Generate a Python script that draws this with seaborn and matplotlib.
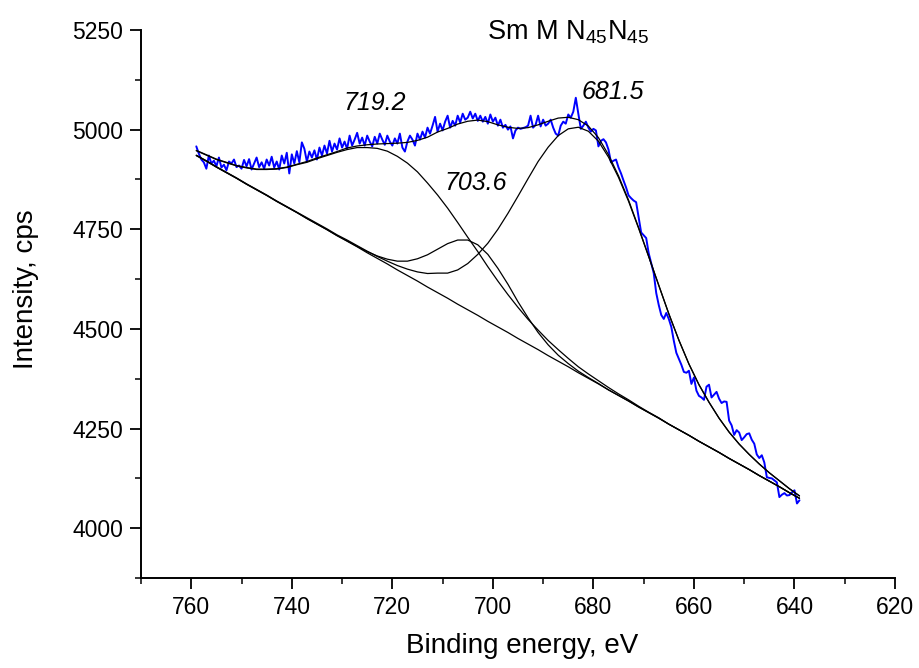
import numpy as np
import pandas as pd
import matplotlib
matplotlib.use("Agg")
import matplotlib.pyplot as plt
import seaborn as sns
from matplotlib.ticker import MultipleLocator

# ---------------- data ----------------
fit_energy = [759, 757, 755, 753, 751, 749, 747, 745, 743, 741, 739, 737, 735, 733, 731,
              729, 727, 725, 723, 721, 719, 717, 715, 713, 711, 709, 707, 705, 703, 701,
              699, 697, 695, 693, 691, 689, 687, 685, 683, 681, 679, 677, 675, 673, 671,
              669, 667, 665, 663, 661, 659, 657, 655, 653, 651, 649, 647, 645, 643, 641, 639]

background = [4935, 4921, 4906, 4892, 4878, 4863, 4849, 4835, 4820, 4806, 4792, 4777, 4763, 4749, 4734,
              4720, 4706, 4691, 4677, 4663, 4648, 4634, 4620, 4605, 4591, 4577, 4562, 4548, 4534, 4519,
              4505, 4491, 4476, 4462, 4448, 4433, 4419, 4405, 4390, 4376, 4362, 4347, 4333, 4319, 4304,
              4290, 4276, 4261, 4247, 4233, 4218, 4204, 4190, 4175, 4161, 4147, 4132, 4118, 4104, 4089, 4075]

peak_719 = [12, 15, 19, 25, 31, 41, 51, 65, 81, 99, 120, 141, 164, 186, 209,
            230, 249, 264, 276, 283, 285, 282, 274, 261, 245, 226, 205, 182, 160, 137,
            115, 95, 78, 62, 49, 38, 29, 21, 15, 11, 8, 6, 4, 3, 2,
            1, 1, 0, 0, 0, 0, 0, 0, 0, 0, 0, 0, 0, 0, 0, 0]

peak_704 = [0, 0, 0, 0, 0, 0, 0, 0, 0, 0, 0, 0, 0, 0, 0,
            1, 1, 3, 6, 12, 22, 36, 56, 81, 109, 137, 161, 175, 177, 168,
            147, 121, 92, 66, 43, 27, 15, 8, 4, 2, 1, 0, 0, 0, 0,
            0, 0, 0, 0, 0, 0, 0, 0, 0, 0, 0, 0, 0, 0, 0, 0]

peak_682 = [1, 1, 1, 1, 1, 1, 1, 1, 1, 1, 1, 2, 2, 2, 2,
            3, 3, 4, 5, 7, 11, 16, 23, 34, 49, 63, 86, 116, 153, 196,
            245, 299, 357, 415, 472, 523, 566, 597, 616, 620, 609, 584, 547, 501, 448,
            391, 333, 277, 225, 179, 142, 112, 86, 66, 50, 38, 29, 21, 15, 10, 6]

# measured spectrum, 759.0 eV down to 639.0 eV in 0.5 eV steps
spectrum_counts = [
    4958, 4940, 4925, 4918, 4902, 4935, 4915, 4922, 4908, 4930,
    4905, 4912, 4898, 4920, 4915, 4925, 4906, 4910, 4902, 4924,
    4908, 4926, 4900, 4915, 4930, 4906, 4918, 4902, 4925, 4910,
    4932, 4905, 4920, 4900, 4935, 4915, 4942, 4890, 4938, 4915,
    4946, 4918, 4968, 4952, 4920, 4945, 4930, 4948, 4925, 4955,
    4935, 4960, 4940, 4972, 4945, 4965, 4950, 4978, 4955, 4970,
    4952, 4985, 4960, 4975, 4992, 4965, 4980, 4960, 4985, 4970,
    4958, 4982, 4965, 4990, 4975, 4962, 4985, 4970, 4960, 4978,
    4965, 4990, 4955, 4945, 4970, 4985, 4975, 4960, 4990, 4975,
    4995, 4980, 5005, 4990, 5010, 5032, 4995, 5015, 4998, 5020,
    5035, 5005, 5022, 5010, 5035, 5018, 5040, 5025, 5030, 5045,
    5028, 5040, 5022, 5035, 5020, 5032, 5015, 5038, 5020, 5030,
    5010, 5025, 5005, 5012, 5000, 5008, 4978, 4998, 5005, 5002,
    5004, 5006, 5010, 5035, 5005, 5012, 5035, 5008, 5025, 5010,
    5015, 5025, 5005, 4990, 4985, 5010, 5020, 5015, 5038, 5030,
    5045, 5080, 5040, 5002, 5010, 5020, 5005, 4995, 5002, 4998,
    4958, 4972, 4976, 4968, 4950, 4918, 4922, 4925, 4905, 4890,
    4872, 4855, 4835, 4828, 4822, 4818, 4780, 4742, 4735, 4728,
    4690, 4665, 4640, 4590, 4560, 4535, 4525, 4540, 4525, 4505,
    4470, 4440, 4425, 4410, 4392, 4390, 4395, 4362, 4378, 4345,
    4332, 4328, 4322, 4355, 4360, 4328, 4335, 4342, 4325, 4314,
    4318, 4317, 4270, 4258, 4234, 4246, 4240, 4221, 4228, 4236,
    4238, 4222, 4212, 4185, 4176, 4183, 4165, 4128, 4126, 4125,
    4120, 4115, 4078, 4084, 4088, 4082, 4083, 4090, 4095, 4062,
    4070]
spectrum_energy = np.linspace(759, 639, len(spectrum_counts))

peak_labels = ["719.2", "703.6", "681.5"]
peak_label_x = [723.5, 703.4, 676.2]
peak_label_y = [5066, 4867, 5095]

# ---------------- figure ----------------
sns.set_theme(style="ticks")
plt.rcParams["font.family"] = ["Liberation Sans", "DejaVu Sans"]
plt.rcParams["mathtext.default"] = "regular"

fig = plt.figure(figsize=(9.2, 6.68), dpi=100)
fig.patch.set_facecolor("white")
ax = fig.add_axes([141 / 920, 1 - 578 / 668, (895 - 141) / 920, (578 - 30) / 668])
ax.set_facecolor("white")

bg = np.array(background, dtype=float)
p1 = np.array(peak_719, dtype=float)
p2 = np.array(peak_704, dtype=float)
p3 = np.array(peak_682, dtype=float)
envelope = bg + p1 + p2 + p3

spec = pd.DataFrame({"energy": spectrum_energy, "counts": spectrum_counts})
sns.lineplot(data=spec, x="energy", y="counts", ax=ax, color="#0000ff",
             linewidth=1.4, estimator=None, sort=False)

curves = {"bg": bg, "p1": bg + p1, "p2": bg + p2, "p3": bg + p3, "env": envelope}
for name, vals in curves.items():
    d = pd.DataFrame({"energy": fit_energy, "counts": vals})
    sns.lineplot(data=d, x="energy", y="counts", ax=ax, color="black",
                 linewidth=0.9, estimator=None, sort=False)

for t, x, y in zip(peak_labels, peak_label_x, peak_label_y):
    ax.text(x, y, t, fontsize=18, style="italic", ha="center", va="center", color="black")

ax.set_xlim(770, 620)
ax.set_ylim(3875, 5250)
ax.xaxis.set_major_locator(MultipleLocator(20))
ax.xaxis.set_minor_locator(MultipleLocator(10))
ax.yaxis.set_major_locator(MultipleLocator(250))
ax.yaxis.set_minor_locator(MultipleLocator(125))
ax.tick_params(which="major", direction="out", length=8, width=1.3, labelsize=16.5,
               colors="black", pad=5)
ax.tick_params(which="minor", direction="out", length=4, width=1.3)
sns.despine(ax=ax)
for s in ("left", "bottom"):
    ax.spines[s].set_linewidth(1.4)
    ax.spines[s].set_color("black")

ax.set_xlabel("Binding energy, eV", fontsize=20, color="black")
ax.set_ylabel("Intensity, cps", fontsize=20, color="black")
ax.xaxis.label.set_verticalalignment("top")
ax.xaxis.set_label_coords(0.505, -0.101)
ax.yaxis.set_label_coords(-0.135, 0.527)

fig.text(487 / 920, 1 - 39 / 668, r"Sm M N$_{45}$N$_{45}$", fontsize=19.5,
         ha="left", va="baseline", color="black")

fig.savefig("out.png", dpi=100, facecolor="white")
